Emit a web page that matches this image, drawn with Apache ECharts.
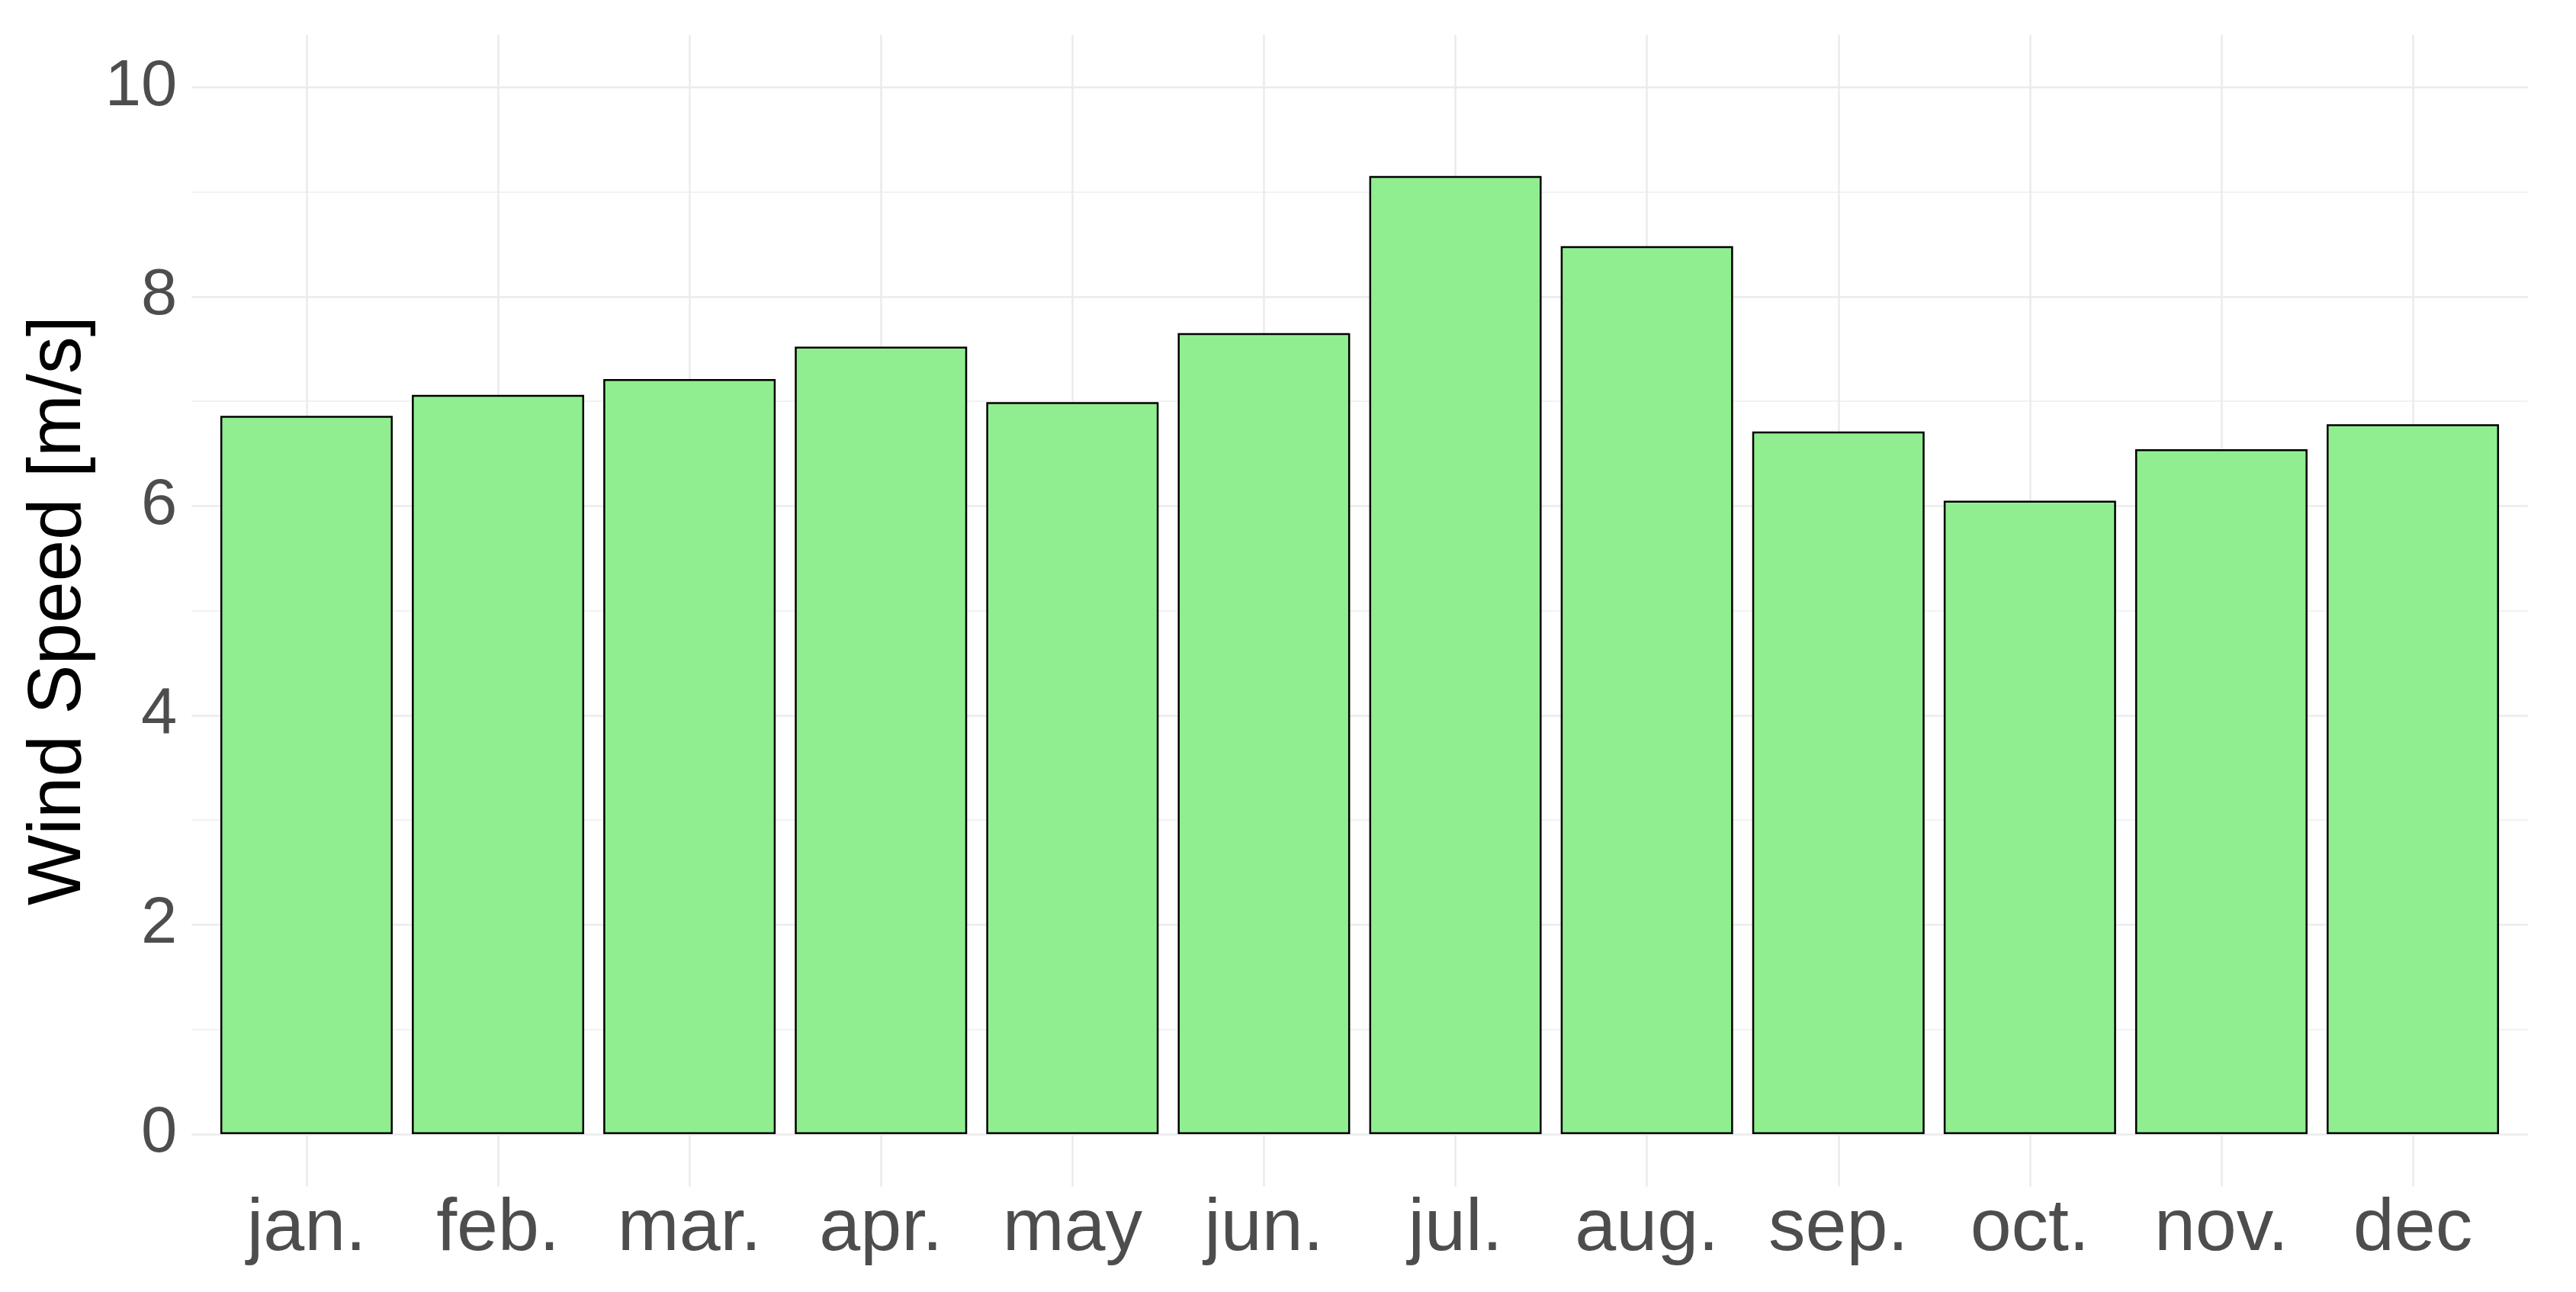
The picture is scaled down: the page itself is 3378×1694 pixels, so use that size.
<!DOCTYPE html>
<html>
<head>
<meta charset="utf-8">
<script src="https://cdn.jsdelivr.net/npm/echarts@6/dist/echarts.min.js"></script>
<style>html,body{margin:0;padding:0;background:#fff}#c{width:3378px;height:1694px}</style>
</head>
<body>
<div id="c"></div>
<script>
const months = ['jan.', 'feb.', 'mar.', 'apr.', 'may', 'jun.', 'jul.', 'aug.', 'sep.', 'oct.', 'nov.', 'dec'];
const windSpeed = [6.86, 7.06, 7.21, 7.52, 6.99, 7.65, 9.15, 8.48, 6.71, 6.05, 6.54, 6.78];
const yTicks = [0, 2, 4, 6, 8, 10];
const yTitle = 'Wind Speed [m/s]';

const FONT = '"Liberation Sans", Arial, sans-serif';
const chart = echarts.init(document.getElementById('c'), null, {renderer: 'canvas'});
chart.setOption({
  backgroundColor: '#ffffff',
  animation: false,
  grid: [
    {left: 251.3, right: 63.3, top: 114.3, bottom: 207, containLabel: false, outerBoundsMode: 'none'},
    {left: 276.4, right: 88.4, top: 45.4, bottom: 138.3, containLabel: false, outerBoundsMode: 'none'}
  ],
  xAxis: [
    {gridIndex: 0, type: 'value', min: 0, max: 1, show: false},
    {
      gridIndex: 1, type: 'category', data: months,
      axisLine: {show: false, onZero: false},
      axisTick: {show: true, alignWithLabel: true, inside: true, length: 1510, lineStyle: {color: '#EBEBEB', width: 2.5}},
      splitLine: {show: false},
      axisLabel: {color: '#4D4D4D', fontSize: 97, fontFamily: FONT, margin: 8}
    }
  ],
  yAxis: [
    {
      gridIndex: 0, type: 'value', min: yTicks[0], max: yTicks[yTicks.length - 1], interval: 2,
      axisLine: {show: false}, axisTick: {show: false},
      splitLine: {show: true, lineStyle: {color: '#EBEBEB', width: 2.5}},
      minorTick: {show: false, splitNumber: 2},
      minorSplitLine: {show: true, lineStyle: {color: '#F2F2F2', width: 2}},
      axisLabel: {color: '#4D4D4D', fontSize: 85, fontFamily: FONT, margin: 19,
        formatter: v => (yTicks.indexOf(v) >= 0 ? String(v) : '')},
      name: yTitle, nameLocation: 'middle', nameRotate: 90, nameGap: 109,
      nameTextStyle: {color: '#000000', fontSize: 98, fontFamily: FONT}
    },
    {gridIndex: 1, type: 'value', min: -0.5, max: 10.5, show: false, splitLine: {show: false}}
  ],
  series: [
    {
      type: 'bar', xAxisIndex: 1, yAxisIndex: 1, data: windSpeed,
      barCategoryGap: '10%',
      itemStyle: {color: '#90EE90', borderColor: '#000000', borderWidth: 2.5},
      z: 5
    }
  ]
});
</script>
</body>
</html>
